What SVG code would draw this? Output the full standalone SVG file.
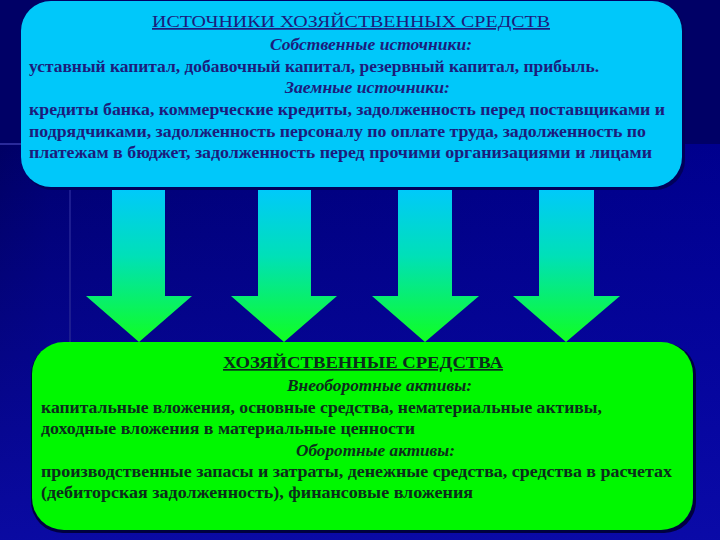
<svg xmlns="http://www.w3.org/2000/svg" width="720" height="540" viewBox="0 0 720 540">
  <defs>
    <linearGradient id="bgH" x1="0" y1="0" x2="1" y2="0">
      <stop offset="0" stop-color="#000064"/>
      <stop offset="0.07" stop-color="#000070"/>
      <stop offset="1" stop-color="#00008e"/>
    </linearGradient>
    <linearGradient id="bgV" x1="0" y1="0" x2="0" y2="1">
      <stop offset="0" stop-color="#0a0ab0" stop-opacity="0"/>
      <stop offset="1" stop-color="#0c0cac" stop-opacity="0.85"/>
    </linearGradient>
    <linearGradient id="arrowGrad" gradientUnits="userSpaceOnUse" x1="0" y1="185" x2="0" y2="342">
      <stop offset="0" stop-color="#00c8ff"/>
      <stop offset="0.45" stop-color="#00e0b8"/>
      <stop offset="1" stop-color="#10ff20"/>
    </linearGradient>
    <style>
      .body { font-family: "Liberation Serif", "DejaVu Serif", serif; font-size: 16px; font-weight: bold; }
      .ital { font-family: "Liberation Serif", "DejaVu Serif", serif; font-size: 16px; font-weight: bold; font-style: italic; }
      .title { font-family: "Liberation Serif", "DejaVu Serif", serif; font-size: 17px; text-decoration: underline; }
      .topText { fill: #1c1c7c; }
      .botText { fill: #0c2c1c; }
      .arrow { fill: url(#arrowGrad); }
    </style>
  </defs>

  <!-- background -->
  <rect x="0" y="0" width="720" height="540" fill="#000066"/>
  <rect x="0" y="144" width="720" height="396" fill="url(#bgH)"/>
  <rect x="0" y="144" width="720" height="396" fill="url(#bgV)"/>
  <rect x="0" y="143" width="22" height="2" fill="#2a2a9a"/>
  <rect x="69" y="187" width="2" height="160" fill="#1c1c90"/>

  <g id="connectors">
    <polygon class="arrow" points="112,185 165,185 165,296 192,296 139,342 86,296 112,296"/>
    <polygon class="arrow" points="258,185 311,185 311,296 337,296 284,342 231,296 258,296"/>
    <polygon class="arrow" points="398,185 452,185 452,296 479,296 425,342 372,296 398,296"/>
    <polygon class="arrow" points="539,185 594,185 594,296 620,296 566,342 513,296 539,296"/>
  </g>

  <g id="sources">
    <rect x="23" y="4" width="662" height="186" rx="30" ry="30" fill="#00005a"/>
    <rect x="21" y="1" width="661" height="186" rx="30" ry="30" fill="#00c8fa"/>
    <text class="title topText" x="152" y="27" textLength="398" lengthAdjust="spacingAndGlyphs">ИСТОЧНИКИ ХОЗЯЙСТВЕННЫХ СРЕДСТВ</text>
    <text class="ital topText" x="270" y="50" textLength="202" lengthAdjust="spacingAndGlyphs">Собственные источники:</text>
    <text class="body topText" x="29" y="72" textLength="570" lengthAdjust="spacingAndGlyphs">уставный капитал, добавочный капитал, резервный капитал, прибыль.</text>
    <text class="ital topText" x="285" y="93" textLength="165" lengthAdjust="spacingAndGlyphs">Заемные источники:</text>
    <text class="body topText" x="29" y="115" textLength="636" lengthAdjust="spacingAndGlyphs">кредиты банка, коммерческие кредиты, задолженность перед поставщиками и</text>
    <text class="body topText" x="29" y="137" textLength="617" lengthAdjust="spacingAndGlyphs">подрядчиками, задолженность персоналу по оплате труда, задолженность по</text>
    <text class="body topText" x="29" y="158" textLength="623" lengthAdjust="spacingAndGlyphs">платежам в бюджет, задолженность перед прочими организациями и лицами</text>
  </g>

  <g id="assets">
    <rect x="31" y="343" width="665" height="190" rx="32" ry="32" fill="#000040"/>
    <rect x="32" y="342" width="661" height="188" rx="32" ry="32" fill="#00f800"/>
    <text class="title botText" x="223" y="368" textLength="280" lengthAdjust="spacingAndGlyphs" font-weight="bold">ХОЗЯЙСТВЕННЫЕ СРЕДСТВА</text>
    <text class="ital botText" x="287" y="391" textLength="185" lengthAdjust="spacingAndGlyphs">Внеоборотные активы:</text>
    <text class="body botText" x="41" y="413" textLength="561" lengthAdjust="spacingAndGlyphs">капитальные вложения, основные средства, нематериальные активы,</text>
    <text class="body botText" x="41" y="434" textLength="374" lengthAdjust="spacingAndGlyphs">доходные вложения в материальные ценности</text>
    <text class="ital botText" x="296" y="456" textLength="159" lengthAdjust="spacingAndGlyphs">Оборотные активы:</text>
    <text class="body botText" x="41" y="477" textLength="631" lengthAdjust="spacingAndGlyphs">производственные запасы и затраты, денежные средства, средства в расчетах</text>
    <text class="body botText" x="41" y="498" textLength="432" lengthAdjust="spacingAndGlyphs">(дебиторская задолженность), финансовые вложения</text>
  </g>
</svg>
